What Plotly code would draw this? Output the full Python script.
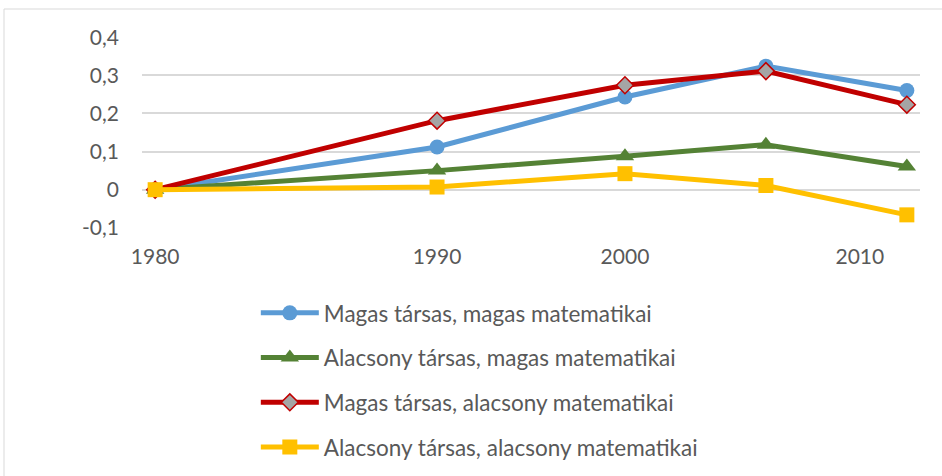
import plotly.graph_objects as go

# Measurement years and their slot on the original (category-style) x axis
years = [1980, 1990, 2000, 2006, 2012]
slots = [0, 6, 10, 13, 16]
tick_slots = [0, 6, 10, 15]
tick_labels = ["1980", "1990", "2000", "2010"]

names = [
    "Magas társas, magas matematikai",
    "Alacsony társas, magas matematikai",
    "Magas társas, alacsony matematikai",
    "Alacsony társas, alacsony matematikai",
]
high_soc_high_math = [0, 0.112, 0.243, 0.324, 0.260]
low_soc_high_math = [0, 0.050, 0.088, 0.118, 0.061]
high_soc_low_math = [0, 0.181, 0.274, 0.311, 0.223]
low_soc_low_math = [0, 0.007, 0.042, 0.011, -0.066]

series = [high_soc_high_math, low_soc_high_math, high_soc_low_math, low_soc_low_math]
colors = ["#5B9BD5", "#548235", "#C00000", "#FFC000"]
markers = [
    dict(symbol="circle", size=15, color="#5B9BD5"),
    dict(symbol="triangle-up", size=16, color="#548235"),
    dict(symbol="diamond", size=13, color="#A5A5A5", line=dict(color="#C00000", width=1.5)),
    dict(symbol="square", size=15, color="#FFC000"),
]

fig = go.Figure()
for i, (name, vals) in enumerate(zip(names, series)):
    fig.add_trace(go.Scatter(
        x=slots, y=vals, name=name, mode="lines+markers",
        line=dict(color=colors[i], width=5),
        marker=markers[i],
        legendgroup=f"g{i}",
        customdata=years,
        hovertemplate="%{customdata}: %{y}<extra>" + name + "</extra>",
    ))

font_color = "#595959"
fig.update_layout(
    width=942, height=476,
    margin=dict(l=142, r=22, t=37, b=248, autoexpand=False),
    paper_bgcolor="white", plot_bgcolor="white",
    separators=", ",
    font=dict(family="Lato", size=21, color=font_color),
    showlegend=True,
    legend=dict(
        orientation="v", x=0.1463, xanchor="left", y=-0.3335, yanchor="top",
        font=dict(family="Lato", size=22.5, color=font_color),
        itemwidth=58, tracegroupgap=12.5, bgcolor="rgba(0,0,0,0)",
    ),
    xaxis=dict(
        range=[-0.28, 16.28], tickmode="array", tickvals=tick_slots, ticktext=tick_labels,
        showgrid=False, zeroline=False, showline=False, ticks="",
        ticklabelstandoff=14, tickfont=dict(size=21, color=font_color),
    ),
    yaxis=dict(
        range=[-0.1005, 0.4005], tickmode="array", tickvals=[-0.1, 0, 0.1, 0.2, 0.3, 0.4],
        ticktext=["-0,1", "0", "0,1", "0,2", "0,3", "0,4"],
        showgrid=True, gridcolor="#D9D9D9", gridwidth=1.5, zeroline=False, showline=False,
        ticks="", ticklabelstandoff=22, tickfont=dict(size=21, color=font_color),
    ),
)

# outer chart border (light gray), as in the reference
bx0 = (4 - 142) / 778
by0 = (228 - 9) / 191
fig.add_shape(type="line", xref="paper", yref="paper", x0=bx0, y0=by0, x1=1.05, y1=by0,
              line=dict(color="#D9D9D9", width=1))
fig.add_shape(type="line", xref="paper", yref="paper", x0=bx0, y0=by0, x1=bx0, y1=-1.4,
              line=dict(color="#D9D9D9", width=1))

fig.write_html(
    "out.html",
    config={"displayModeBar": False},
    post_script="document.body.style.margin='0';document.body.style.overflow='hidden';",
)
